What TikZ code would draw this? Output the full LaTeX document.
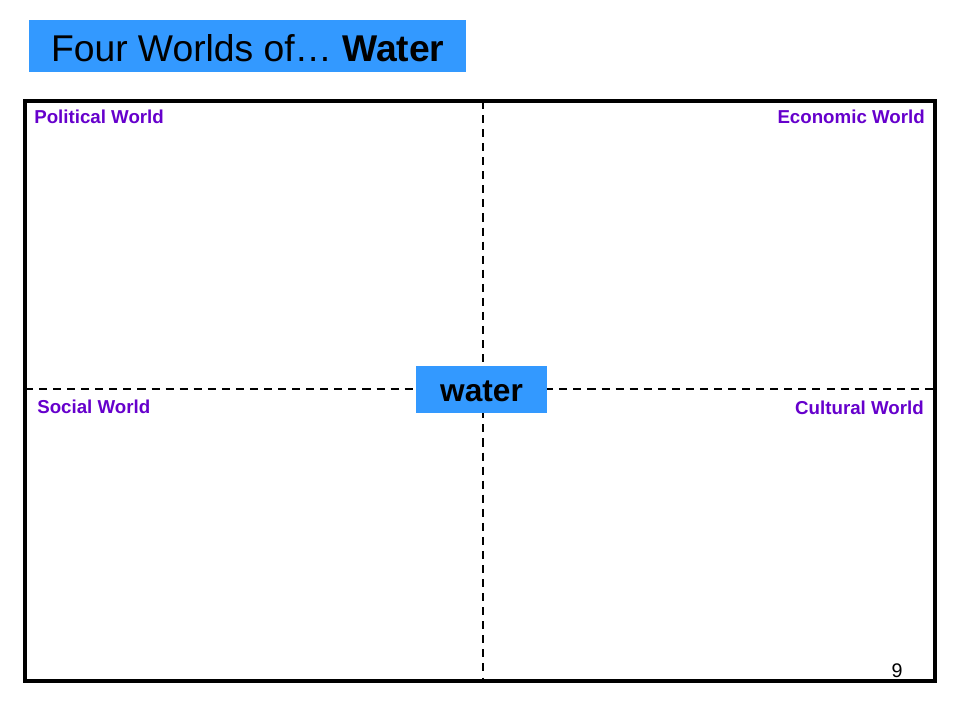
\documentclass[tikz,border=0pt]{standalone}
\usepackage{fontspec}
\setmainfont{Liberation Sans}
\usetikzlibrary{positioning,calc}
\definecolor{titleblue}{RGB}{51,153,255}
\definecolor{worldpurple}{RGB}{102,0,204}

\begin{document}
\begin{tikzpicture}[x=0.025cm,y=-0.025cm,
    bluebox/.style={fill=titleblue,inner sep=0pt,anchor=north west},
    worldlabel/.style={font=\fontsize{13.3}{15}\selectfont\bfseries,text=worldpurple,inner sep=0pt},
    divider/.style={line width=1.4pt,dash pattern=on 5.7pt off 4.3pt}]
    \useasboundingbox (0,0) rectangle (960,720);
    % Title
    \node[bluebox,minimum width=437*0.025cm,minimum height=52*0.025cm] (title) at (29,20) {};
    \node[font=\fontsize{26.5}{30}\selectfont,inner sep=0pt] (titletext) at ($(title.center)+(0,1.5)$) {Four Worlds of\dots\ \textbf{Water}};
    % Frame corners
    \coordinate (nw) at (25,101);
    \coordinate (se) at (935,681);
    \coordinate (top) at (483,101);
    \coordinate (bottom) at (483,681);
    \coordinate (left) at (25,389);
    \coordinate (right) at (935,389);
    % Dividers
    \draw[divider] (top) -- (bottom);
    \draw[divider] (left) -- (right);
    \draw[line width=2.6pt] (nw) rectangle (se);
    % Quadrant labels
    \node[worldlabel,anchor=west] (political) at (34,117) {Political World};
    \node[worldlabel,anchor=east] (economic) at (925,117) {Economic World};
    \node[worldlabel,anchor=west] (social) at (37,407) {Social World};
    \node[worldlabel,anchor=east] (cultural) at (924,408) {Cultural World};
    % Centre box
    \node[fill=titleblue,minimum width=131*0.025cm,minimum height=47*0.025cm,inner sep=0pt] (water) at (481.5,389.5) {};
    \node[font=\fontsize{22.5}{26}\selectfont\bfseries,inner sep=0pt] (watertext) at ($(water.center)+(0,2)$) {water};
    % Page number
    \node[font=\fontsize{14}{16}\selectfont,inner sep=0pt] (pagenum) at (897,671) {9};
\end{tikzpicture}
\end{document}
